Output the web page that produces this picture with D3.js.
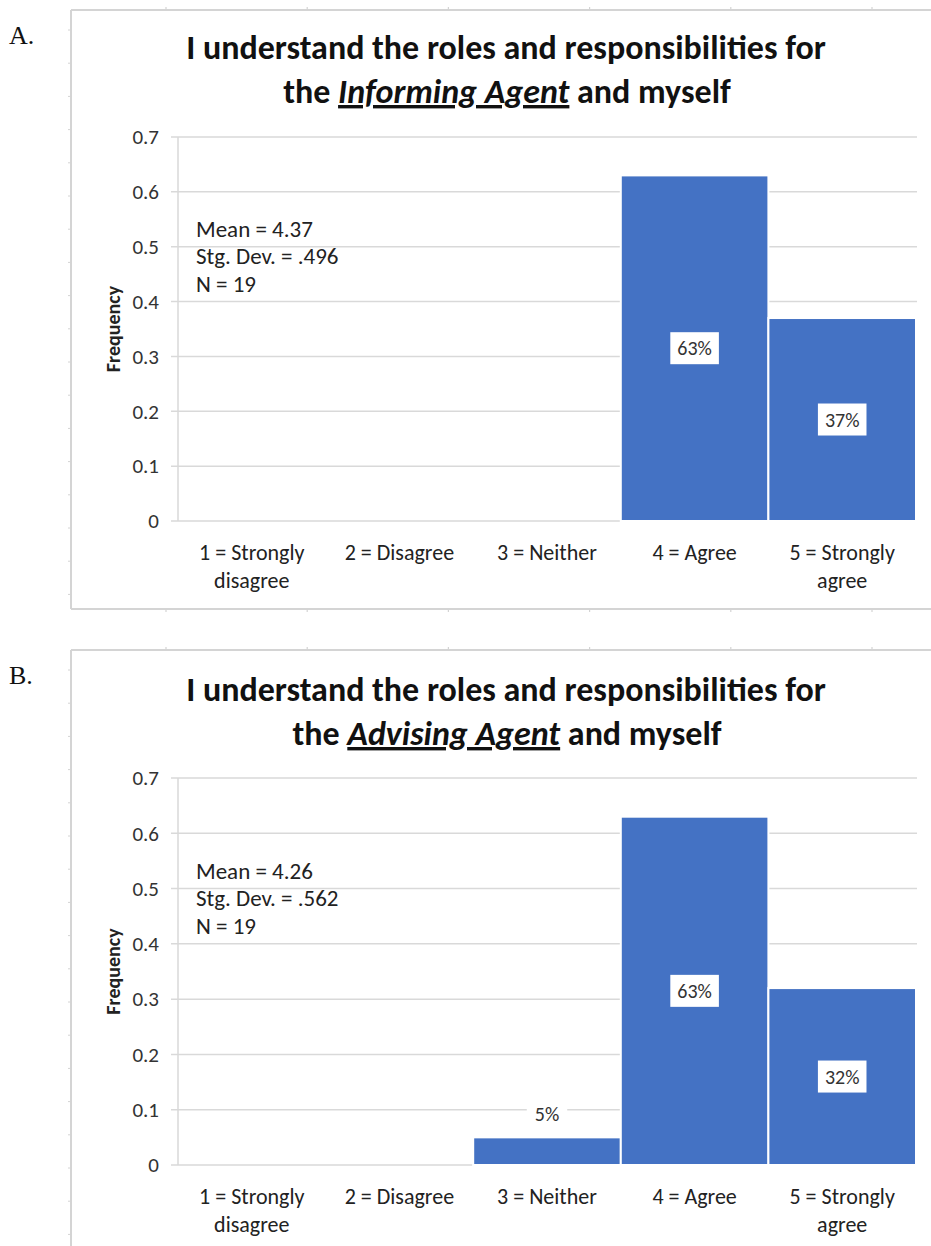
<!DOCTYPE html>
<html>
<head>
<meta charset="utf-8">
<script src="https://cdn.jsdelivr.net/npm/d3@7"></script>
<style>
  html, body { margin: 0; padding: 0; background: #fff; }
  svg { display: block; }
  .ui { font-family: Carlito, Lato, "Open Sans", sans-serif; }
</style>
</head>
<body>
<svg id="chart" width="931" height="1246"></svg>
<script>
// Response categories (x axis), split into display lines
const categories = ["1", "2", "3", "4", "5"];
const categoryLines = [
  ["1 = Strongly", "disagree"],
  ["2 = Disagree"],
  ["3 = Neither"],
  ["4 = Agree"],
  ["5 = Strongly", "agree"]
];

// Share of respondents per category
const informingValues = [0, 0, 0, 0.63, 0.37];
const advisingValues  = [0, 0, 0.05, 0.63, 0.32];

// Value labels shown on the bars
const informingLabels = ["", "", "", "63%", "37%"];
const advisingLabels  = ["", "", "5%", "63%", "32%"];

// Summary statistics printed inside each plot
const informingStats = ["Mean = 4.37", "Stg. Dev. = .496", "N = 19"];
const advisingStats  = ["Mean = 4.26", "Stg. Dev. = .562", "N = 19"];

// Y axis ticks
const yTicks = [0, 0.1, 0.2, 0.3, 0.4, 0.5, 0.6, 0.7];
const yTickLabels = ["0", "0.1", "0.2", "0.3", "0.4", "0.5", "0.6", "0.7"];

const panels = [
  {
    letter: "A.",
    agent: "Informing Agent",
    values: informingValues,
    labels: informingLabels,
    stats: informingStats,
    top: 10, bottom: 609,
    titleY: [59, 103],
    yRange: [521, 137]
  },
  {
    letter: "B.",
    agent: "Advising Agent",
    values: advisingValues,
    labels: advisingLabels,
    stats: advisingStats,
    top: 650, bottom: 1260,
    titleY: [701, 745],
    yRange: [1165, 778]
  }
];

const svg = d3.select("#chart");
const W = 931;
const frameLeft = 71;
const plotLeft = 178, plotRight = 916;
const barColor = "#4472C4";
const gridColor = "#d9d9d9";
const frameColor = "#d4d4d4";

const x = d3.scaleBand().domain(categories).range([plotLeft, plotRight]).padding(0);

panels.forEach(p => {
  const g = svg.append("g");

  // Panel letter
  g.append("text")
    .attr("x", 9).attr("y", p.top + 34)
    .attr("font-family", "'Liberation Serif', 'Times New Roman', serif")
    .attr("font-size", 26)
    .attr("fill", "#111")
    .text(p.letter);

  // Chart frame (left, top, bottom edges) with small cell ticks
  const frame = g.append("g").attr("stroke", frameColor).attr("fill", "none");
  frame.append("line").attr("x1", frameLeft).attr("x2", frameLeft)
    .attr("y1", p.top).attr("y2", Math.min(p.bottom, 1246)).attr("stroke-width", 2);
  frame.append("line").attr("x1", frameLeft).attr("x2", W)
    .attr("y1", p.top).attr("y2", p.top).attr("stroke-width", 2);
  if (p.bottom < 1246) {
    frame.append("line").attr("x1", frameLeft).attr("x2", W)
      .attr("y1", p.bottom).attr("y2", p.bottom).attr("stroke-width", 2);
  }
  const colTicks = d3.range(166, W, 141.2);
  colTicks.forEach(cx => {
    frame.append("line").attr("x1", cx).attr("x2", cx)
      .attr("y1", p.top - 3).attr("y2", p.top).attr("stroke-width", 1.2);
    if (p.bottom < 1246) {
      frame.append("line").attr("x1", cx).attr("x2", cx)
        .attr("y1", p.bottom).attr("y2", p.bottom + 3).attr("stroke-width", 1.2);
    }
  });
  d3.range(p.top + 20, Math.min(p.bottom, 1246), 33.2).forEach(ry => {
    frame.append("line").attr("x1", frameLeft - 3).attr("x2", frameLeft)
      .attr("y1", ry).attr("y2", ry).attr("stroke-width", 1);
  });

  // Title (two lines, agent name italic + underlined)
  const title = g.append("text")
    .attr("class", "ui")
    .attr("text-anchor", "middle")
    .attr("font-size", 34)
    .attr("font-weight", 700)
    .attr("fill", "#111");
  title.append("tspan").attr("x", 506).attr("y", p.titleY[0])
    .text("I understand the roles and responsibilities for");
  const l2 = title.append("tspan").attr("x", 507).attr("y", p.titleY[1]);
  l2.append("tspan").text("the ");
  l2.append("tspan").attr("font-style", "italic")
    .style("text-decoration", "underline").text(p.agent);
  l2.append("tspan").text(" and myself");

  const y = d3.scaleLinear().domain([0, 0.7]).range(p.yRange);

  // Gridlines
  g.append("g").selectAll("line").data(yTicks).join("line")
    .attr("x1", plotLeft - 7).attr("x2", plotRight + 1)
    .attr("y1", d => y(d)).attr("y2", d => y(d))
    .attr("stroke", gridColor).attr("stroke-width", 1.5);

  // Vertical axis line
  g.append("line")
    .attr("x1", plotLeft).attr("x2", plotLeft)
    .attr("y1", y(0.7)).attr("y2", y(0))
    .attr("stroke", gridColor).attr("stroke-width", 1.5);

  // Y tick labels
  g.append("g").selectAll("text").data(yTicks).join("text")
    .attr("class", "ui")
    .attr("x", plotLeft - 19).attr("y", d => y(d))
    .attr("dy", "0.35em")
    .attr("text-anchor", "end")
    .attr("font-size", 21)
    .attr("fill", "#333")
    .text((d, i) => yTickLabels[i]);

  // Y axis title
  const yMid = (p.yRange[0] + p.yRange[1]) / 2;
  g.append("text")
    .attr("class", "ui")
    .attr("transform", `translate(120, ${yMid}) rotate(-90)`)
    .attr("text-anchor", "middle")
    .attr("font-size", 20)
    .attr("font-weight", 700)
    .attr("fill", "#222")
    .text("Frequency");

  // Bars
  g.append("g").selectAll("rect").data(p.values).join("rect")
    .attr("x", (d, i) => x(categories[i]))
    .attr("width", x.bandwidth())
    .attr("y", d => y(d))
    .attr("height", d => y(0) - y(d))
    .attr("fill", barColor)
    .attr("stroke", "#fff")
    .attr("stroke-width", 2)
    .attr("display", d => d > 0 ? null : "none");

  // Category labels
  const xl = g.append("g");
  categoryLines.forEach((lines, i) => {
    const t = xl.append("text")
      .attr("class", "ui")
      .attr("text-anchor", "middle")
      .attr("font-size", 22)
      .attr("fill", "#222");
    lines.forEach((ln, j) => {
      t.append("tspan")
        .attr("x", x(categories[i]) + x.bandwidth() / 2)
        .attr("y", y(0) + 39 + j * 28)
        .text(ln);
    });
  });

  // Summary statistics
  g.append("g").selectAll("text").data(p.stats).join("text")
    .attr("class", "ui")
    .attr("x", 196)
    .attr("y", (d, i) => y(0.5) - 18 + i * 27.5)
    .attr("dy", "0.35em")
    .attr("font-size", 23)
    .attr("fill", "#222")
    .text(d => d);

  // Value labels: centred inside tall bars, above short ones
  p.values.forEach((v, i) => {
    if (!(v > 0)) return;
    const cx = x(categories[i]) + x.bandwidth() / 2;
    const inside = v >= 0.15;
    const cy = inside ? (y(v) + y(0)) / 2 : y(v) - 23;
    const lg = g.append("g");
    const txt = lg.append("text")
      .attr("class", "ui")
      .attr("x", cx).attr("y", cy)
      .attr("dy", "0.35em")
      .attr("text-anchor", "middle")
      .attr("font-size", 20)
      .attr("fill", "#333")
      .text(p.labels[i]);
    const bb = txt.node().getBBox();
    const padX = inside ? 7 : 8, h = inside ? 32 : 26;
    lg.insert("rect", "text")
      .attr("x", bb.x - padX).attr("y", cy - h / 2)
      .attr("width", bb.width + 2 * padX).attr("height", h)
      .attr("fill", "#fff");
  });
});
</script>
</body>
</html>
